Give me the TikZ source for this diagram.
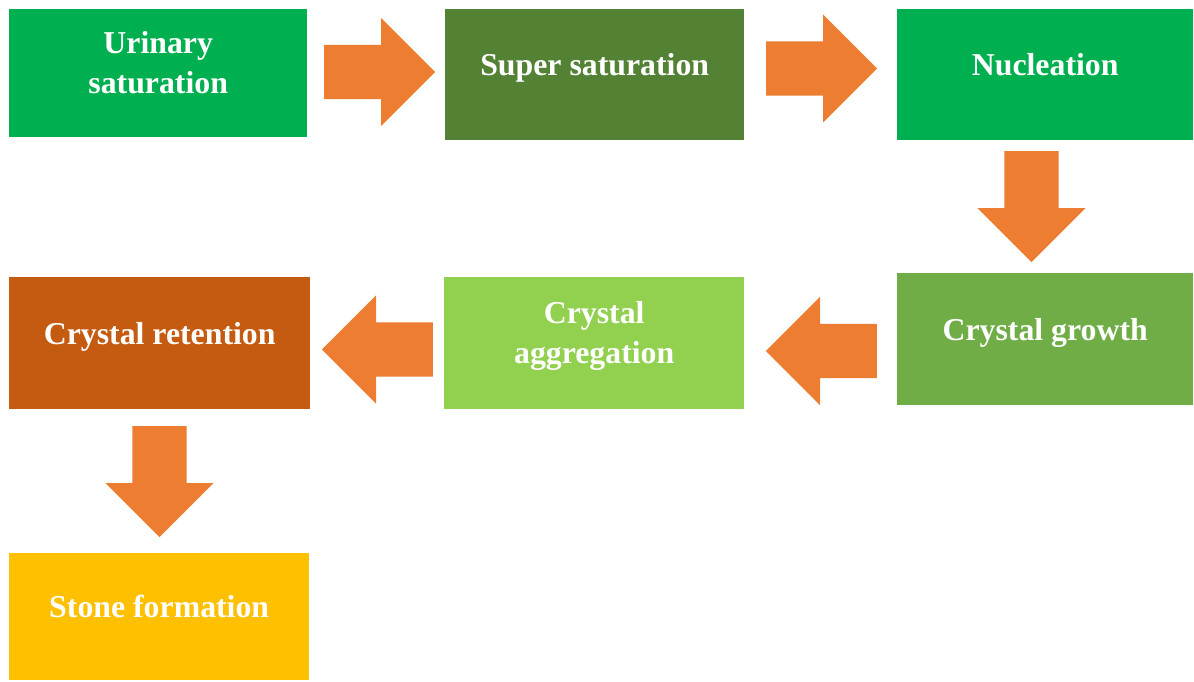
\documentclass[tikz,border=0pt]{standalone}
\usepackage{fontspec}
\setmainfont{Liberation Serif}
\usetikzlibrary{shapes.arrows}
\definecolor{cgreen}{HTML}{00B050}
\definecolor{cdark}{HTML}{548235}
\definecolor{cmid}{HTML}{70AD47}
\definecolor{clight}{HTML}{92D050}
\definecolor{cbrown}{HTML}{C55A11}
\definecolor{cgold}{HTML}{FFC000}
\definecolor{corange}{HTML}{ED7D31}
\tikzset{
  stepbox/.style={draw=none, inner sep=0pt, minimum width=#1, anchor=north west},
  lbl/.style={text=white, font=\bfseries\fontsize{31.8}{40}\selectfont, align=center, inner sep=0pt, anchor=base},
  blockarrow/.style={single arrow, fill=corange, draw=none, inner sep=0pt,
    text height=27pt, text depth=27pt, anchor=tail,
    minimum height=111pt, single arrow head extend=27pt,
    single arrow head indent=0pt, single arrow tip angle=90}
}
\begin{document}
\begin{tikzpicture}[x=1pt,y=-1pt]
\useasboundingbox (0,0) rectangle (1194,681);
% boxes
\node[stepbox=298pt, minimum height=128pt, fill=cgreen] (b1) at (9,9) {};
\node[stepbox=299pt, minimum height=131pt, fill=cdark] (b2) at (445,9) {};
\node[stepbox=296pt, minimum height=131pt, fill=cgreen] (b3) at (897,9) {};
\node[stepbox=296pt, minimum height=132pt, fill=cmid] (b4) at (897,273) {};
\node[stepbox=300pt, minimum height=132pt, fill=clight] (b5) at (444,277) {};
\node[stepbox=301pt, minimum height=132pt, fill=cbrown] (b6) at (9,277) {};
\node[stepbox=300pt, minimum height=127pt, fill=cgold] (b7) at (9,553) {};
% labels
\node[lbl] (t1) at ([yshift=-20pt]b1.center) {Urinary\\saturation};
\node[lbl] (t2) at ([yshift=-1pt]b2.center) {Super saturation};
\node[lbl] (t3) at ([yshift=-1pt]b3.center) {Nucleation};
\node[lbl] (t4) at ([yshift=-1pt]b4.center) {Crystal growth};
\node[lbl] (t5) at ([yshift=-20pt]b5.center) {Crystal\\aggregation};
\node[lbl] (t6) at ([yshift=-1pt]b6.center) {Crystal retention};
\node[lbl] (t7) at ([yshift=-1pt]b7.center) {Stone formation};
% arrows
\node[blockarrow] (a1) at (324,72) {};
\node[blockarrow] (a2) at (766,68.5) {};
\node[blockarrow, rotate=-90] (a3) at (1031.5,151) {};
\node[blockarrow, rotate=180] (a4) at (877,351) {};
\node[blockarrow, rotate=180] (a5) at (433,349.5) {};
\node[blockarrow, rotate=-90] (a6) at (159.5,426) {};
\end{tikzpicture}
\end{document}
